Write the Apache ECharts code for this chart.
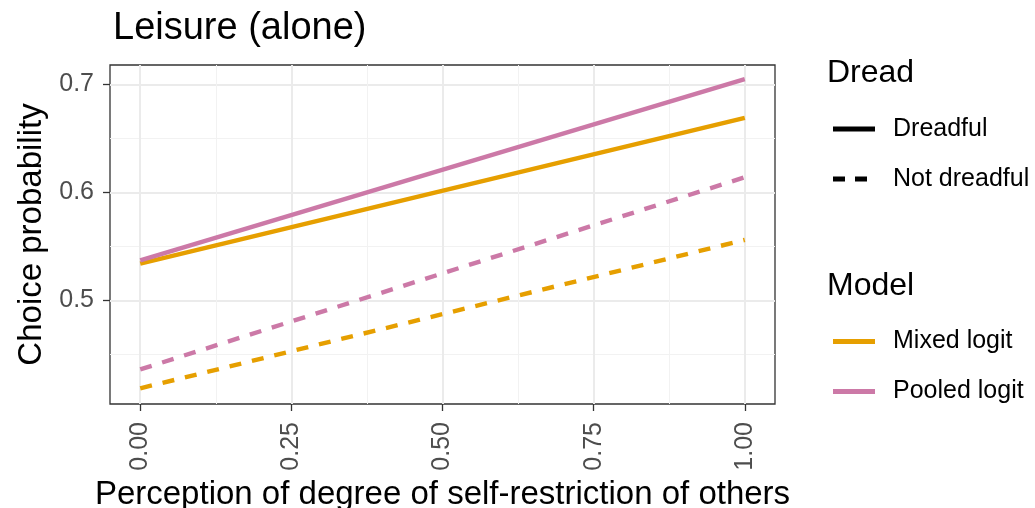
<!DOCTYPE html>
<html><head><meta charset="utf-8">
<script src="https://cdn.jsdelivr.net/npm/echarts@6/dist/echarts.min.js"></script>
<style>html,body{margin:0;padding:0;background:#fff}#c{width:1035px;height:508px}</style>
</head><body><div id="c"></div>
<script>
const xValues = [0, 1];
const mixedDreadful = [0.534, 0.669];
const pooledDreadful = [0.537, 0.705];
const mixedNotDreadful = [0.4185, 0.556];
const pooledNotDreadful = [0.436, 0.614];
const xTicks = [0, 0.25, 0.5, 0.75, 1];
const xMinor = [0.125, 0.375, 0.625, 0.875];
const yTicks = [0.5, 0.6, 0.7];
const yMinor = [0.45, 0.55, 0.65];
const xRange = [-0.05, 1.05];
const yRange = [0.404, 0.718];

const ORANGE = '#E69F00', PINK = '#CC79A7';
const FONT = 'Liberation Sans, Arial, sans-serif';
const DASH = [12, 11];
const LW = 4.4;
const pts = ys => xValues.map((x, i) => [x, ys[i]]);

const SOLID_ICON = 'path://M0,0h42v5h-42z';
const DASH_ICON = 'path://M0,0h12v5h-12zM22,0h12v5h-12zM41.95,2.45h0.05v0.05h-0.05z';

const chart = echarts.init(document.getElementById('c'), null, {renderer: 'canvas'});
const mkSeries = (name, ys, color, dashed) => ({
  name, type: 'line', data: pts(ys), showSymbol: false, symbol: 'none', silent: true, z: 5,
  itemStyle: {color},
  lineStyle: {color, width: LW, type: dashed ? DASH : 'solid', cap: 'butt'}
});
const legendText = {fontFamily: FONT, fontSize: 25, lineHeight: 25, color: '#000', padding: [0, 0, 0, 13]};
chart.setOption({
  animation: false,
  backgroundColor: '#fff',
  textStyle: {fontFamily: FONT},
  title: [
    {text: 'Leisure (alone)', left: 108, top: 5, textStyle: {fontFamily: FONT, fontSize: 38, fontWeight: 'normal', color: '#000'}},
    {text: 'Dread', left: 822, top: 52, textStyle: {fontFamily: FONT, fontSize: 32, fontWeight: 'normal', color: '#000'}},
    {text: 'Model', left: 822, top: 265, textStyle: {fontFamily: FONT, fontSize: 32, fontWeight: 'normal', color: '#000'}}
  ],
  grid: {left: 110, top: 65, right: 260, bottom: 104, show: true, borderColor: '#333', borderWidth: 1.3, backgroundColor: '#fff',
         containLabel: false, outerBoundsMode: 'none'},
  legend: [
    {data: [{name: 'Dreadful', icon: SOLID_ICON, itemStyle: {color: '#000'}},
            {name: 'Not dreadful', icon: DASH_ICON, itemStyle: {color: '#000'}}],
     orient: 'vertical', left: 828, top: 111.5, itemWidth: 42, itemHeight: 5, itemGap: 25, symbolKeepAspect: false,
     textStyle: legendText, selectedMode: false},
    {data: [{name: 'Mixed logit', icon: SOLID_ICON, itemStyle: {color: ORANGE}},
            {name: 'Pooled logit', icon: SOLID_ICON, itemStyle: {color: PINK}}],
     orient: 'vertical', left: 828, top: 324, itemWidth: 42, itemHeight: 5, itemGap: 25, symbolKeepAspect: false,
     textStyle: legendText, selectedMode: false}
  ],
  xAxis: [
    {type: 'value', min: xRange[0], max: xRange[1], position: 'bottom',
     name: 'Perception of degree of self-restriction of others', nameLocation: 'middle', nameGap: 74,
     nameTextStyle: {fontFamily: FONT, fontSize: 33, color: '#000'},
     axisLine: {show: false, onZero: false}, axisTick: {show: true, length: 7, lineStyle: {color: '#333', width: 1.3}, customValues: xTicks},
     axisLabel: {customValues: xTicks, rotate: 90, fontSize: 25, color: '#4d4d4d', margin: 18, formatter: v => v.toFixed(2)},
     splitLine: {show: true, lineStyle: {color: '#ebebeb', width: 2}}},
    {type: 'value', min: xRange[0], max: xRange[1], position: 'top',
     axisLine: {show: false, onZero: false}, axisTick: {show: false, customValues: xMinor}, axisLabel: {show: false, customValues: xMinor},
     splitLine: {show: true, lineStyle: {color: '#f2f2f2', width: 1}}}
  ],
  yAxis: [
    {type: 'value', min: yRange[0], max: yRange[1], position: 'left',
     name: 'Choice probability', nameLocation: 'middle', nameGap: 62,
     nameTextStyle: {fontFamily: FONT, fontSize: 33, color: '#000'},
     axisLine: {show: false, onZero: false}, axisTick: {show: true, length: 7, lineStyle: {color: '#333', width: 1.3}, customValues: yTicks},
     axisLabel: {customValues: yTicks, fontSize: 25, color: '#4d4d4d', margin: 16, formatter: v => v.toFixed(1)},
     splitLine: {show: true, lineStyle: {color: '#ebebeb', width: 2}}},
    {type: 'value', min: yRange[0], max: yRange[1], position: 'right',
     axisLine: {show: false, onZero: false}, axisTick: {show: false, customValues: yMinor}, axisLabel: {show: false, customValues: yMinor},
     splitLine: {show: true, lineStyle: {color: '#f2f2f2', width: 1}}}
  ],
  series: [
    mkSeries('Mixed logit', mixedDreadful, ORANGE, false),
    mkSeries('Pooled logit', pooledDreadful, PINK, false),
    mkSeries('Mixed logit (not dreadful)', mixedNotDreadful, ORANGE, true),
    mkSeries('Pooled logit (not dreadful)', pooledNotDreadful, PINK, true),
    {name: 'Dreadful', type: 'line', data: [], symbol: 'none', itemStyle: {color: '#000'}, lineStyle: {color: '#000', width: LW}},
    {name: 'Not dreadful', type: 'line', data: [], symbol: 'none', itemStyle: {color: '#000'}, lineStyle: {color: '#000', width: LW, type: DASH}}
  ]
});
</script></body></html>
